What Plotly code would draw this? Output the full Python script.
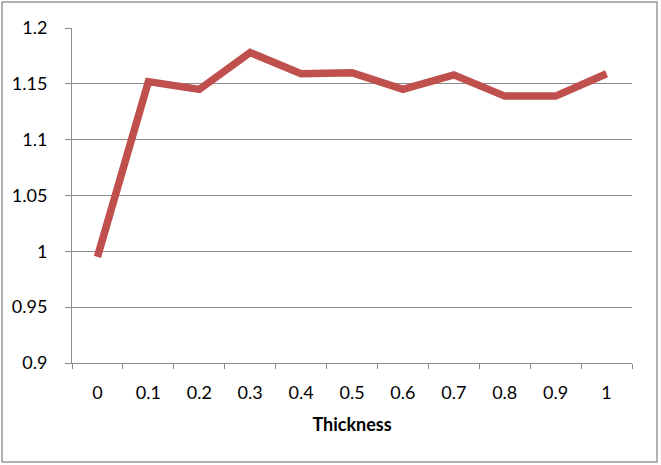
import plotly.graph_objects as go

# data
thickness = ["0", "0.1", "0.2", "0.3", "0.4", "0.5", "0.6", "0.7", "0.8", "0.9", "1"]
values = [0.995, 1.152, 1.145, 1.178, 1.159, 1.160, 1.145, 1.158, 1.139, 1.139, 1.159]
y_ticks = [0.9, 0.95, 1.0, 1.05, 1.1, 1.15, 1.2]
y_labels = ["0.9", "0.95", "1", "1.05", "1.1", "1.15", "1.2"]

grey = "#8c8c8c"
font_family = "Lato, 'Liberation Sans', sans-serif"

fig = go.Figure(go.Scatter(
    x=thickness,
    y=values,
    mode="lines",
    line=dict(color="#C0504D", width=7.5),
    showlegend=False,
))

fig.update_layout(
    width=661,
    height=465,
    margin=dict(l=72, r=29, t=28, b=102),
    paper_bgcolor="white",
    plot_bgcolor="white",
    font=dict(family=font_family, size=18, color="black"),
    xaxis=dict(
        type="category",
        range=[-0.5, 10.5],
        tickson="boundaries",
        ticks="outside",
        ticklen=5,
        tickcolor=grey,
        showline=True,
        linecolor=grey,
        linewidth=1,
        showgrid=False,
        ticklabelstandoff=13,
        title=dict(text="<b>Thickness</b>", font=dict(size=18), standoff=16),
    ),
    yaxis=dict(
        range=[0.9, 1.2],
        tickvals=y_ticks,
        ticktext=y_labels,
        ticks="outside",
        ticklen=6,
        tickcolor=grey,
        showline=True,
        linecolor=grey,
        linewidth=1,
        showgrid=True,
        gridcolor=grey,
        gridwidth=1,
        zeroline=False,
        ticklabelstandoff=14,
    ),
    shapes=[dict(
        type="rect",
        xref="paper", yref="paper",
        x0=-0.125, x1=1.0446, y0=-0.2955, y1=1.0776,
        line=dict(color="#999999", width=1.5),
        fillcolor="rgba(0,0,0,0)",
        layer="below",
    )],
)

# drop the default page margin so the chart sits at the window's corner
fig.write_html(
    "out.html",
    config={"displayModeBar": False},
    post_script="document.body.style.margin='0';",
)
